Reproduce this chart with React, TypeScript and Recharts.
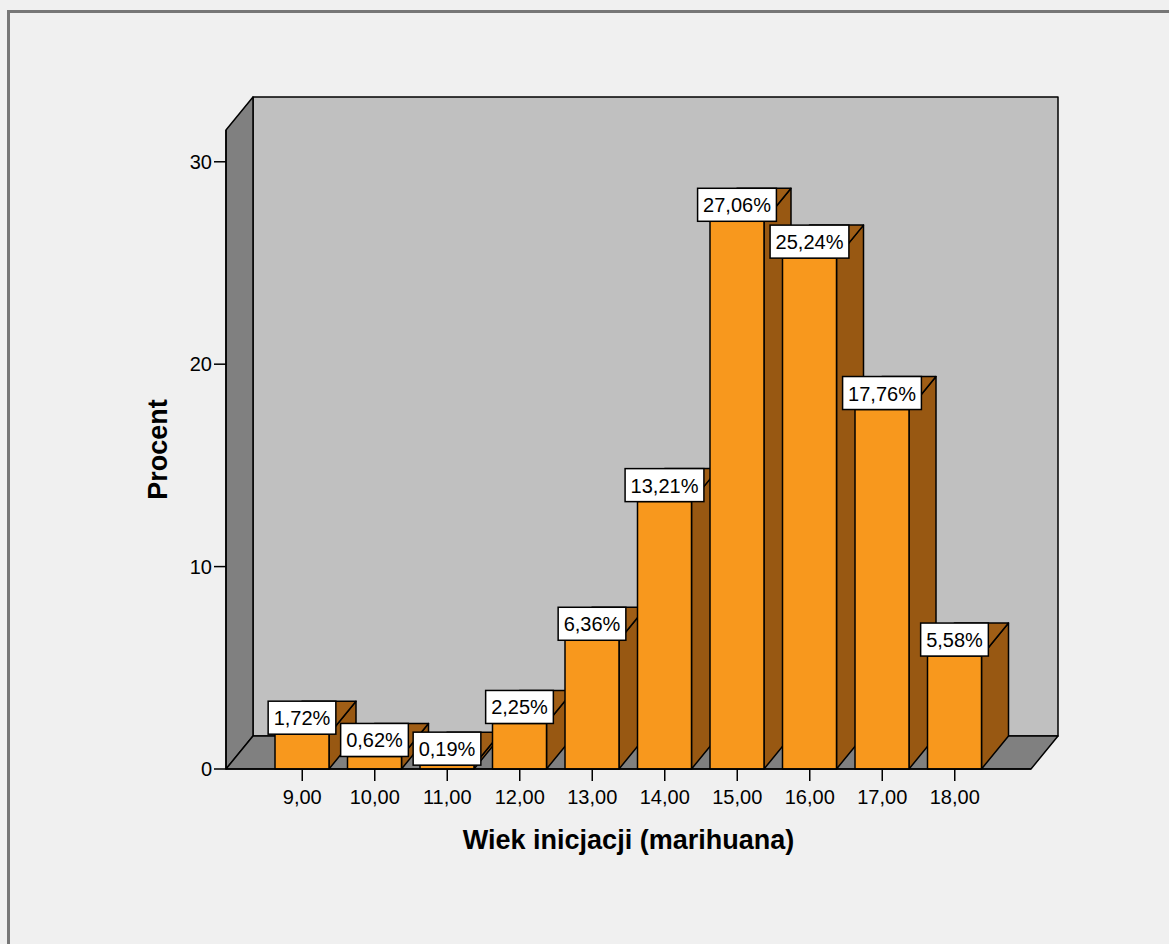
import React from 'react';
import { ComposedChart, Bar, XAxis, YAxis, ReferenceArea, LabelList } from 'recharts';

// wiek inicjacji - kategorie i procenty
const ages = ['9,00', '10,00', '11,00', '12,00', '13,00', '14,00', '15,00', '16,00', '17,00', '18,00'];
const percents = [1.72, 0.62, 0.19, 2.25, 6.36, 13.21, 27.06, 25.24, 17.76, 5.58];
const yTicks = [0, 10, 20, 30];
const Y_MAX = 31.57;

const DX = 27; // glebokosc 3D
const DY = 33;
const FONT = '"Liberation Sans", Arial, sans-serif';

const data = ages.map((age, i) => ({ age, value: percents[i] }));

const fmt = (v: number) => v.toFixed(2).replace('.', ',') + '%';

const charW: Record<string, number> = { ',': 0.278, '%': 0.889 };
const textWidth = (s: string, size: number) =>
  s.split('').reduce((acc, c) => acc + (charW[c] ?? 0.556), 0) * size;

// sciany wykresu (tyl, lewa, podloga)
const Walls = (props: any) => {
  const { x, y, width, height } = props;
  const b = y + height;
  return (
    <g stroke="#000" strokeWidth={1.5} strokeLinejoin="round">
      <rect x={x + DX} y={y - DY} width={width} height={height} fill="#c0c0c0" />
      <polygon points={`${x},${y} ${x + DX},${y - DY} ${x + DX},${b - DY} ${x},${b}`} fill="#808080" />
      <polygon
        points={`${x},${b} ${x + DX},${b - DY} ${x + width + DX},${b - DY} ${x + width},${b}`}
        fill="#808080"
      />
    </g>
  );
};

const Bar3D = (props: any) => {
  const { x, y, width, height } = props;
  if (x == null || y == null) return null;
  const r = x + width;
  const b = y + height;
  return (
    <g stroke="#000" strokeWidth={1.5} strokeLinejoin="round">
      <polygon points={`${r},${y} ${r + DX},${y - DY} ${r + DX},${b - DY} ${r},${b}`} fill="#985812" />
      <polygon points={`${x},${y} ${x + DX},${y - DY} ${r + DX},${y - DY} ${r},${y}`} fill="#a05e16" />
      <rect x={x} y={y} width={width} height={height} fill="#f8981d" />
    </g>
  );
};

const BarLabel = (props: any) => {
  const vb = props.viewBox ?? props;
  const x = props.x ?? vb.x;
  const y = props.y ?? vb.y;
  const width = props.width ?? vb.width;
  const text = fmt(Number(props.value));
  const w = textWidth(text, 20) + 11;
  const cx = x + width / 2;
  return (
    <g>
      <rect x={cx - w / 2} y={y - DY} width={w} height={DY} fill="#fff" stroke="#000" strokeWidth={1.5} />
      <text x={cx} y={y - 9} textAnchor="middle" fontSize={20} fontFamily={FONT} fill="#000">
        {text}
      </text>
    </g>
  );
};

export default function App() {
  return (
    <div
      style={{
        position: 'absolute',
        left: 0,
        top: 0,
        width: 1169,
        height: 944,
        background: '#f0f0f0',
        overflow: 'hidden',
      }}
    >
      <div
        style={{
          position: 'absolute',
          left: 7,
          top: 10,
          width: 1300,
          height: 1100,
          borderLeft: '3px solid #777',
          borderTop: '3px solid #777',
        }}
      />
      <div style={{ position: 'absolute', left: 0, top: 0 }}>
        <ComposedChart
          width={1169}
          height={944}
          data={data}
          margin={{ top: 130, right: 138, bottom: 35, left: 88 }}
          style={{ fontFamily: FONT }}
        >
          {/* os pomocnicza bez paddingu - tylko do rysowania scian */}
          <XAxis xAxisId="wall" dataKey="age" hide />
          <XAxis
            dataKey="age"
            padding={{ left: 40, right: 40 }}
            height={140}
            tickSize={12}
            tickMargin={9}
            axisLine={{ stroke: '#000', strokeWidth: 1.5 }}
            tickLine={{ stroke: '#000', strokeWidth: 1.5 }}
            tick={{ fill: '#000', fontSize: 20, fontFamily: FONT }}
            label={{
              value: 'Wiek inicjacji (marihuana)',
              position: 'center',
              fill: '#000',
              fontSize: 27,
              fontWeight: 'bold',
              fontFamily: FONT,
            }}
          />
          <YAxis
            width={138}
            domain={[0, Y_MAX]}
            ticks={yTicks}
            tickSize={12}
            axisLine={{ stroke: '#000', strokeWidth: 1.5 }}
            tickLine={{ stroke: '#000', strokeWidth: 1.5 }}
            tick={{ fill: '#000', fontSize: 20, fontFamily: FONT }}
            label={{
              value: 'Procent',
              angle: -90,
              position: 'center',
              fill: '#000',
              fontSize: 27,
              fontWeight: 'bold',
              fontFamily: FONT,
            }}
          />
          <ReferenceArea
            xAxisId="wall"
            x1={ages[0]}
            x2={ages[ages.length - 1]}
            y1={0}
            y2={Y_MAX}
            shape={<Walls />}
          />
          <Bar dataKey="value" barSize={54} shape={<Bar3D />} isAnimationActive={false}>
            <LabelList dataKey="value" content={<BarLabel />} />
          </Bar>
        </ComposedChart>
      </div>
    </div>
  );
}
